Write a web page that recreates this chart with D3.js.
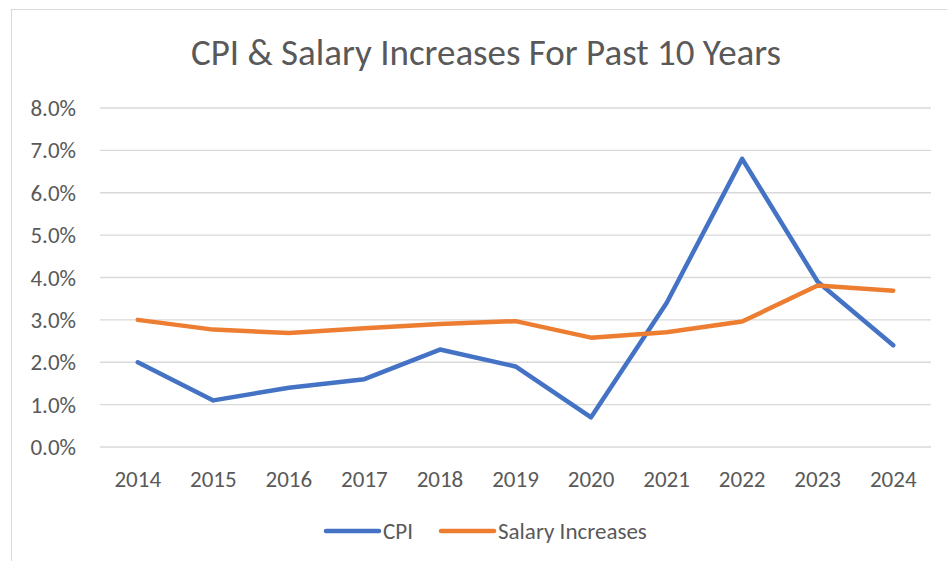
<!DOCTYPE html>
<html>
<head>
<meta charset="utf-8">
<script src="https://cdn.jsdelivr.net/npm/d3@7"></script>
<style>
  body { margin: 0; background: #fff; }
  svg { display: block; font-family: Carlito, Calibri, "Open Sans", sans-serif; }
</style>
</head>
<body>
<svg id="chart" width="947" height="561"></svg>
<script>
var years = ["2014", "2015", "2016", "2017", "2018", "2019", "2020", "2021", "2022", "2023", "2024"];
var cpi = [2.0, 1.1, 1.4, 1.6, 2.3, 1.9, 0.7, 3.4, 6.8, 3.9, 2.4];
var salary = [3.0, 2.77, 2.69, 2.8, 2.9, 2.97, 2.58, 2.71, 2.96, 3.81, 3.69];
var yTicks = [0, 1, 2, 3, 4, 5, 6, 7, 8];
var seriesNames = ["CPI", "Salary Increases"];
var colors = ["#4472c4", "#ed7d31"];

var svg = d3.select("#chart");

// outer chart frame
svg.append("rect")
  .attr("x", 11.5).attr("y", 9.5)
  .attr("width", 960).attr("height", 600)
  .attr("fill", "none").attr("stroke", "#d9d9d9");

var plotLeft = 100, plotRight = 931, plotTop = 108, plotBottom = 447;

var x = d3.scalePoint().domain(years).range([plotLeft, plotRight]).padding(0.5);
var y = d3.scaleLinear().domain([0, 8]).range([plotBottom, plotTop]);

// title
svg.append("text")
  .attr("x", 486).attr("y", 52)
  .attr("dy", "0.35em")
  .attr("text-anchor", "middle")
  .attr("font-size", 37)
  .attr("fill", "#595959")
  .text("CPI & Salary Increases For Past 10 Years");

// gridlines
svg.append("g").selectAll("line")
  .data(yTicks)
  .enter().append("line")
    .attr("x1", plotLeft).attr("x2", plotRight)
    .attr("y1", function(d){ return y(d); })
    .attr("y2", function(d){ return y(d); })
    .attr("stroke", "#d9d9d9").attr("stroke-width", 1.3);

// y labels
svg.append("g").selectAll("text")
  .data(yTicks)
  .enter().append("text")
    .attr("x", 76)
    .attr("y", function(d){ return y(d); })
    .attr("dy", "0.35em")
    .attr("text-anchor", "end")
    .attr("font-size", 23)
    .attr("fill", "#595959")
    .text(function(d){ return d.toFixed(1) + "%"; });

// x labels
svg.append("g").selectAll("text")
  .data(years)
  .enter().append("text")
    .attr("x", function(d){ return x(d); })
    .attr("y", 479)
    .attr("dy", "0.35em")
    .attr("text-anchor", "middle")
    .attr("font-size", 23)
    .attr("fill", "#595959")
    .text(function(d){ return d; });

var line = d3.line()
  .x(function(d, i){ return x(years[i]); })
  .y(function(d){ return y(d); });

[cpi, salary].forEach(function(s, k){
  svg.append("path")
    .datum(s)
    .attr("d", line)
    .attr("fill", "none")
    .attr("stroke", colors[k])
    .attr("stroke-width", 4.5)
    .attr("stroke-linejoin", "round")
    .attr("stroke-linecap", "round");
});

// legend
var legendX = [326, 441];
seriesNames.forEach(function(name, k){
  svg.append("line")
    .attr("x1", legendX[k]).attr("x2", legendX[k] + 53)
    .attr("y1", 531).attr("y2", 531)
    .attr("stroke", colors[k]).attr("stroke-width", 4.5)
    .attr("stroke-linecap", "round");
  svg.append("text")
    .attr("x", legendX[k] + 57).attr("y", 531)
    .attr("dy", "0.35em")
    .attr("font-size", 23)
    .attr("fill", "#595959")
    .text(name);
});
</script>
</body>
</html>
